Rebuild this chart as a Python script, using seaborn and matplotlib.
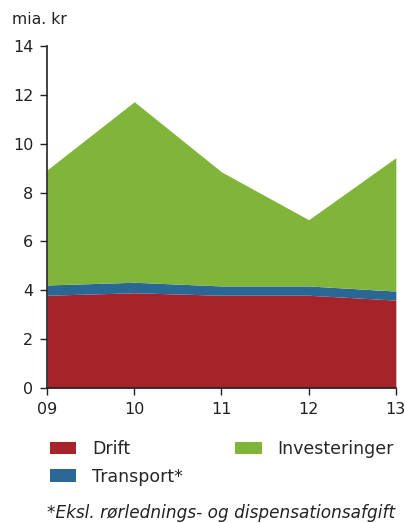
import numpy as np
import matplotlib
matplotlib.use('Agg')
import matplotlib.pyplot as plt
from matplotlib.patches import Patch
import seaborn as sns

# Data
years = ['09', '10', '11', '12', '13']
drift = [3.8, 3.9, 3.8, 3.8, 3.6]
transport = [0.42, 0.43, 0.38, 0.38, 0.37]
investeringer = [4.71, 7.39, 4.67, 2.71, 5.46]

series_names = ['Drift', 'Transport*', 'Investeringer']
colors = ['#A6232A', '#2B6795', '#80B53A']

sns.set_style('ticks')
plt.rcParams['font.family'] = ['DejaVu Sans']

fig = plt.figure(figsize=(4.06, 5.23), dpi=100)
ax = fig.add_axes([0.116, 0.258, 0.859, 0.654])

x = np.arange(len(years))
ax.stackplot(x, drift, transport, investeringer, colors=colors, linewidth=0)

ax.set_xlim(0, len(years) - 1)
ax.set_ylim(0, 14)
ax.set_xticks(x)
ax.set_xticklabels(years)
ax.set_yticks(range(0, 15, 2))
ax.tick_params(axis='both', labelsize=11.5, colors='#222222', length=5,
               width=1, direction='out', pad=5)
for s in ['left', 'bottom']:
    ax.spines[s].set_color('#222222')
    ax.spines[s].set_linewidth(1.2)
sns.despine(ax=ax)

fig.text(0.03, 0.962, 'mia. kr', fontsize=11.3, color='#222222', va='center')

handles = [Patch(facecolor=c, edgecolor='none') for c in colors]
fig.legend(handles, series_names, loc='upper left', bbox_to_anchor=(0.105, 0.172),
           ncol=2, frameon=False, fontsize=12.5, handlelength=1.55,
           handleheight=0.72, handletextpad=0.9, columnspacing=3.0,
           labelspacing=0.55, borderaxespad=0)

fig.text(0.115, 0.0096, '*Eksl. rørlednings- og dispensationsafgift',
         fontsize=12.2, style='italic', color='#222222', va='baseline')

plt.savefig('out.png', dpi=100)
